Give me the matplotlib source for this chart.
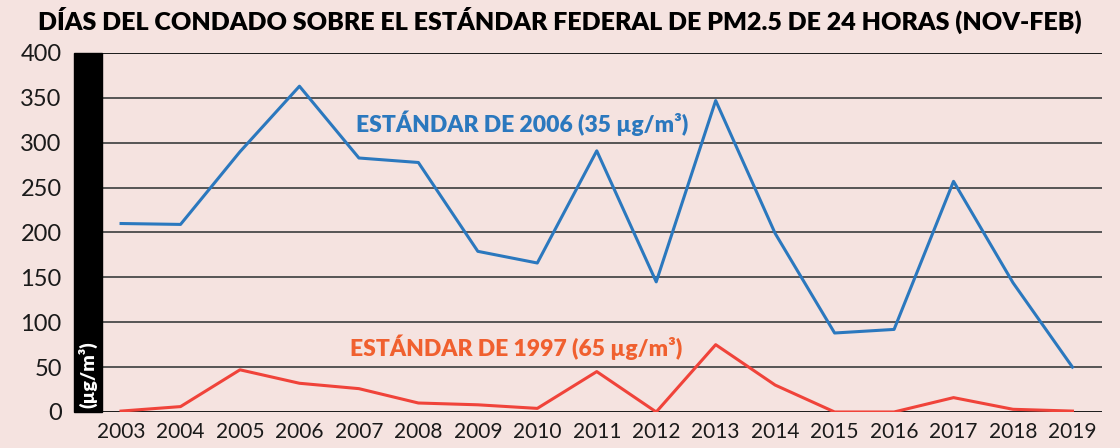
import matplotlib.pyplot as plt
from matplotlib.patches import Rectangle

# Datos
years = list(range(2003, 2020))
std_2006 = [210, 209, 290, 363, 283, 278, 179, 166, 291, 145, 347, 199, 88, 92, 257, 144, 50]
std_1997 = [1, 6, 47, 32, 26, 10, 8, 4, 45, 0, 75, 30, 0, 0, 16, 3, 1]
y_ticks = [0, 50, 100, 150, 200, 250, 300, 350, 400]

bg = '#f5e3e0'
blue = '#2b78be'
red = '#f0433a'
orange = '#f0602f'

plt.rcParams['font.family'] = ['Lato', 'DejaVu Sans']

fig = plt.figure(figsize=(11.2, 4.48), dpi=100, facecolor=bg)
ax = fig.add_axes([0.0911, 0.0804, 0.893, 0.8013])
ax.set_facecolor(bg)

for v in y_ticks:
    ax.axhline(v, color='#1a1a1a' if v in (0, 400) else '#555555', lw=1.4, zorder=1)

ax.plot(years, std_2006, color=blue, lw=2.2, zorder=3)
ax.plot(years, std_1997, color=red, lw=2.2, zorder=3)

ax.set_xlim(2002.68, 2019.5)
ax.set_ylim(0, 400)
ax.set_xticks(years)
ax.set_yticks(y_ticks)
ax.tick_params(axis='x', length=0, labelsize=15, pad=7, colors='#1a1a1a')
ax.tick_params(axis='y', length=0, labelsize=17, pad=29, colors='#1a1a1a')
for s in ax.spines.values():
    s.set_visible(False)

# barra negra con la unidad
ax.add_patch(Rectangle((-0.028, 0), 0.028, 1, transform=ax.transAxes,
                       color='black', clip_on=False, zorder=4))
ax.text(-0.014, 0.01, '(µg/m³)', transform=ax.transAxes, rotation=90,
        color='white', fontsize=14, fontweight='heavy', ha='center', va='bottom', zorder=5)

ax.text(2009.75, 322, 'ESTÁNDAR DE 2006 (35 µg/m³)', color=blue,
        fontsize=16.5, fontweight='heavy', ha='center', va='center')
ax.text(2009.65, 72, 'ESTÁNDAR DE 1997 (65 µg/m³)', color=orange,
        fontsize=16.5, fontweight='heavy', ha='center', va='center')

fig.text(0.5, 0.955, 'DÍAS DEL CONDADO SOBRE EL ESTÁNDAR FEDERAL DE PM2.5 DE 24 HORAS (NOV-FEB)',
         ha='center', va='center', fontsize=18, fontweight='heavy', color='black')

fig.savefig('out.png', dpi=100, facecolor=bg)
